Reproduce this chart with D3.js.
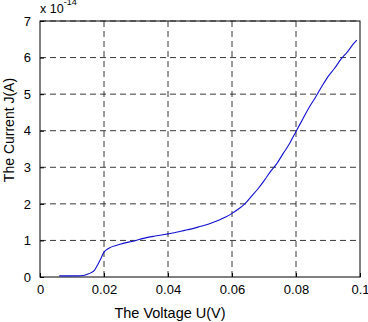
<!DOCTYPE html>
<html>
<head>
<meta charset="utf-8">
<script src="https://cdn.jsdelivr.net/npm/d3@7"></script>
<style>
  body { margin: 0; background: #fff; }
  text { font-family: "Liberation Sans", Arial, sans-serif; }
</style>
</head>
<body>
<svg id="chart" width="368" height="322"></svg>
<script>
// data (current in units of 1e-14 A)
var voltage = [0.006, 0.008, 0.010, 0.012, 0.0135, 0.015, 0.016, 0.017, 0.018, 0.019, 0.020,
  0.021, 0.022, 0.024, 0.026, 0.028, 0.030, 0.032, 0.034, 0.036, 0.038, 0.040, 0.042, 0.044,
  0.046, 0.048, 0.050, 0.052, 0.054, 0.056, 0.058, 0.060, 0.062, 0.064, 0.066, 0.068, 0.070,
  0.072, 0.074, 0.076, 0.078, 0.080, 0.082, 0.084, 0.086, 0.088, 0.090, 0.092, 0.094, 0.096,
  0.098, 0.099];
var current = [0.03, 0.03, 0.03, 0.03, 0.04, 0.08, 0.12, 0.18, 0.33, 0.50, 0.68,
  0.76, 0.81, 0.87, 0.92, 0.96, 1.00, 1.05, 1.09, 1.12, 1.15, 1.18, 1.21, 1.25,
  1.29, 1.33, 1.38, 1.43, 1.49, 1.56, 1.64, 1.74, 1.86, 2.00, 2.20, 2.40, 2.63,
  2.88, 3.10, 3.38, 3.65, 3.98, 4.30, 4.62, 4.90, 5.20, 5.48, 5.70, 5.95, 6.15,
  6.38, 6.48];
var xTicks = [0, 0.02, 0.04, 0.06, 0.08, 0.1];
var xTickLabels = ["0", "0.02", "0.04", "0.06", "0.08", "0.1"];
var yTicks = [0, 1, 2, 3, 4, 5, 6, 7];

var padL = 40, padR = 360, padT = 21, padB = 277;
var svg = d3.select("#chart");

var x = d3.scaleLinear().domain([0, 0.1]).range([padL, padR]);
var y = d3.scaleLinear().domain([0, 7]).range([padB, padT]);

// box
svg.append("rect").attr("x", padL).attr("y", padT)
  .attr("width", padR - padL).attr("height", padB - padT)
  .attr("fill", "none").attr("stroke", "#000").attr("stroke-width", 1);

// grid
svg.append("g").selectAll("line").data(xTicks.slice(1, -1)).enter().append("line")
  .attr("x1", function(d){ return x(d); }).attr("x2", function(d){ return x(d); })
  .attr("y1", padT).attr("y2", padB)
  .attr("stroke", "#222").attr("stroke-dasharray", "6,4").attr("stroke-width", 0.9);
svg.append("g").selectAll("line").data(yTicks.slice(1)).enter().append("line")
  .attr("x1", padL).attr("x2", padR)
  .attr("y1", function(d){ return y(d); }).attr("y2", function(d){ return y(d); })
  .attr("stroke", "#222").attr("stroke-dasharray", "6,4").attr("stroke-width", 0.9);

// axes
var xAxis = d3.axisBottom(x).tickValues(xTicks).tickSize(-4).tickPadding(8)
  .tickFormat(function(d, i){ return xTickLabels[i]; });
var yAxis = d3.axisLeft(y).tickValues(yTicks).tickSize(-4).tickPadding(9)
  .tickFormat(d3.format("d"));

var gx = svg.append("g").attr("transform", "translate(0," + padB + ")").call(xAxis);
var gy = svg.append("g").attr("transform", "translate(" + padL + ",0)").call(yAxis);
[gx, gy].forEach(function(g){
  g.select(".domain").remove();
  g.selectAll("text").attr("font-size", 13).attr("fill", "#000")
    .style("font-family", "Liberation Sans, Arial, sans-serif");
  g.selectAll(".tick line").attr("stroke", "#000");
});

// curve
var line = d3.line()
  .x(function(d, i){ return x(voltage[i]); })
  .y(function(d){ return y(d); })
  .curve(d3.curveMonotoneX);
svg.append("path").datum(current)
  .attr("d", line)
  .attr("fill", "none").attr("stroke", "#1010d0").attr("stroke-width", 1.1);

// labels
svg.append("text").attr("x", 170).attr("y", 318).attr("text-anchor", "middle")
  .attr("font-size", 14.5).text("The Voltage U(V)");
svg.append("text").attr("transform", "translate(14,130) rotate(-90)")
  .attr("text-anchor", "middle").attr("font-size", 14).text("The Current J(A)");
var ex = svg.append("text").attr("x", 40).attr("y", 13).attr("font-size", 12.5);
ex.append("tspan").text("x 10");
ex.append("tspan").attr("dy", -8).attr("font-size", 9).text("-14");
</script>
</body>
</html>
